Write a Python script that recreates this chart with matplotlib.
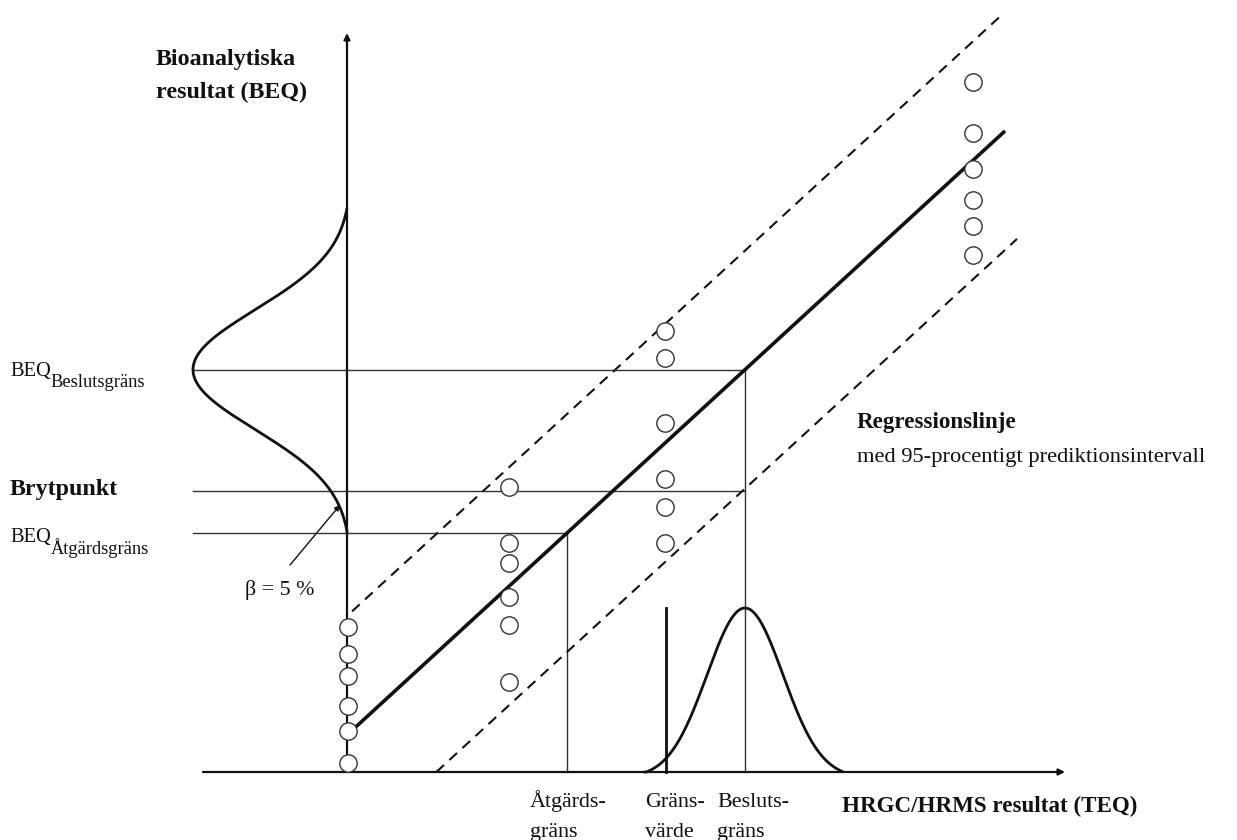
import numpy as np
import matplotlib
matplotlib.use("Agg")
import matplotlib.pyplot as plt

# ---------------- data (schematic units: TEQ along x, BEQ along y) ----------------
col_teq = [1, 162, 318, 626]                      # TEQ positions of sample columns
beq_col1 = [145, 118, 96, 66, 41, 9]
beq_col2 = [285, 229, 209, 175, 147, 90]
beq_col3 = [441, 414, 349, 293, 265, 229]
beq_col4 = [690, 639, 603, 572, 546, 517]

reg_intercept = 37.0
reg_slope = 0.918
pi_half = 119.0                                  # half-width of 95 % prediction interval

atgard_teq = 220          # Åtgärdsgräns
grans_teq = 319           # Gränsvärde
beslut_teq = 398          # Beslutsgräns
brytpunkt_beq = 281

# ---------------- figure ----------------
W, H = 1237, 840
fig = plt.figure(figsize=(W / 100, H / 100), dpi=100)
ax = fig.add_axes([0, 0, 1, 1])
ax.set_xlim(-347, W - 347)
ax.set_ylim(772 - H, 772)
ax.axis("off")

FONT = "Liberation Serif"
C = "#111111"
G = "#333333"
px = 0.72  # points per pixel

beq_atgard = reg_intercept + reg_slope * atgard_teq
beq_beslut = reg_intercept + reg_slope * beslut_teq

# axes with arrowheads
ax.annotate("", xy=(718, 0), xytext=(-144, 0),
            arrowprops=dict(arrowstyle="-|>", color=C, lw=1.6, mutation_scale=9,
                            shrinkA=0, shrinkB=0))
ax.annotate("", xy=(0, 739), xytext=(0, 0),
            arrowprops=dict(arrowstyle="-|>", color=C, lw=1.6, mutation_scale=9,
                            shrinkA=0, shrinkB=0))

# regression line and prediction interval
xr = np.array([8, 658])
ax.plot(xr, reg_intercept + reg_slope * xr, color=C, lw=2.6, solid_capstyle="butt", zorder=3)
xu = np.array([5, 655])
ax.plot(xu, reg_intercept + pi_half + reg_slope * xu, color=C, lw=1.5,
        dashes=(5, 3.5), zorder=3)
x0_low = (pi_half - reg_intercept) / reg_slope
xl = np.array([x0_low, 670])
ax.plot(xl, reg_intercept - pi_half + reg_slope * xl, color=C, lw=1.5,
        dashes=(5, 3.5), zorder=3)

# horizontal/vertical guide lines
gx_left = -154
ax.plot([gx_left, beslut_teq], [beq_beslut, beq_beslut], color=G, lw=1.0, zorder=2)
ax.plot([gx_left, beslut_teq], [brytpunkt_beq, brytpunkt_beq], color=G, lw=1.0, zorder=2)
ax.plot([gx_left, atgard_teq], [beq_atgard, beq_atgard], color=G, lw=1.0, zorder=2)
ax.plot([atgard_teq, atgard_teq], [0, beq_atgard], color=G, lw=1.0, zorder=2)
ax.plot([beslut_teq, beslut_teq], [0, beq_beslut], color=G, lw=1.0, zorder=2)

# vertical gaussian on BEQ axis (tails meet the axis)
yy = np.linspace(beq_beslut - 163, beq_beslut + 160, 300)
g = np.exp(-0.5 * ((yy - beq_beslut) / 60.0) ** 2)
g_end = np.exp(-0.5 * (161.5 / 60.0) ** 2)
gx = -154 * np.clip((g - g_end) / (1 - g_end), 0, None)
ax.plot(gx, yy, color=C, lw=2.0, zorder=3)

# horizontal gaussian on TEQ axis
xx = np.linspace(beslut_teq - 100, beslut_teq + 97, 300)
g2 = np.exp(-0.5 * ((xx - beslut_teq) / 38.0) ** 2)
g2_end = np.exp(-0.5 * (98.5 / 38.0) ** 2)
gy = 164 * np.clip((g2 - g2_end) / (1 - g2_end), 0, None)
ax.plot(xx, gy, color=C, lw=2.0, zorder=3)

# Gränsvärde line
ax.plot([grans_teq, grans_teq], [0, 164], color=C, lw=2.0, zorder=3)

# beta annotation
ax.annotate("", xy=(-7, 267), xytext=(-57, 207),
            arrowprops=dict(arrowstyle="-|>", color=C, lw=1.0, mutation_scale=8,
                            shrinkA=0, shrinkB=0))

# sample circles
for xc, ys in zip(col_teq, [beq_col1, beq_col2, beq_col3, beq_col4]):
    ax.plot([xc] * len(ys), ys, linestyle="none", marker="o", ms=12.5,
            mfc="white", mec=G, mew=1.0, zorder=5)

# ---------------- texts ----------------
bold = dict(family=FONT, fontweight="bold", color=C)
reg = dict(family=FONT, color=C)
RS = 22 * px

ax.text(-191, 707, "Bioanalytiska", fontsize=24 * px, va="baseline", ha="left", **bold)
ax.text(-191, 674, "resultat (BEQ)", fontsize=24 * px, va="baseline", ha="left", **bold)

t1 = ax.text(-337, 396, "BEQ", fontsize=20.5 * px, va="baseline", ha="left", **reg)
ax.annotate("Beslutsgräns", xy=(1.0, 0.0), xycoords=t1, xytext=(0, -6),
            textcoords="offset pixels", fontsize=18.5 * px, va="baseline", ha="left", **reg)

ax.text(-337, 277, "Brytpunkt", fontsize=24 * px, va="baseline", ha="left", **bold)

t2 = ax.text(-337, 230, "BEQ", fontsize=20.5 * px, va="baseline", ha="left", **reg)
ax.annotate("Åtgärdsgräns", xy=(1.0, 0.0), xycoords=t2, xytext=(0, -7),
            textcoords="offset pixels", fontsize=18.5 * px, va="baseline", ha="left", **reg)

ax.text(-102, 177, "β = 5 %", fontsize=RS, va="baseline", ha="left", **reg)

ax.text(510, 344, "Regressionslinje", fontsize=23 * px, va="baseline", ha="left", **bold)
ax.text(510, 310, "med 95-procentigt prediktionsintervall", fontsize=22.5 * px,
        va="baseline", ha="left", **reg)

ax.text(495, -40, "HRGC/HRMS resultat (TEQ)", fontsize=23 * px, va="baseline", ha="left", **bold)

ax.text(183, -35, "Åtgärds-", fontsize=RS, va="baseline", ha="left", **reg)
ax.text(183, -65, "gräns", fontsize=RS, va="baseline", ha="left", **reg)
ax.text(298, -35, "Gräns-", fontsize=RS, va="baseline", ha="left", **reg)
ax.text(298, -65, "värde", fontsize=RS, va="baseline", ha="left", **reg)
ax.text(370, -35, "Besluts-", fontsize=RS, va="baseline", ha="left", **reg)
ax.text(370, -65, "gräns", fontsize=RS, va="baseline", ha="left", **reg)

fig.savefig("out.png", dpi=100, facecolor="white")
